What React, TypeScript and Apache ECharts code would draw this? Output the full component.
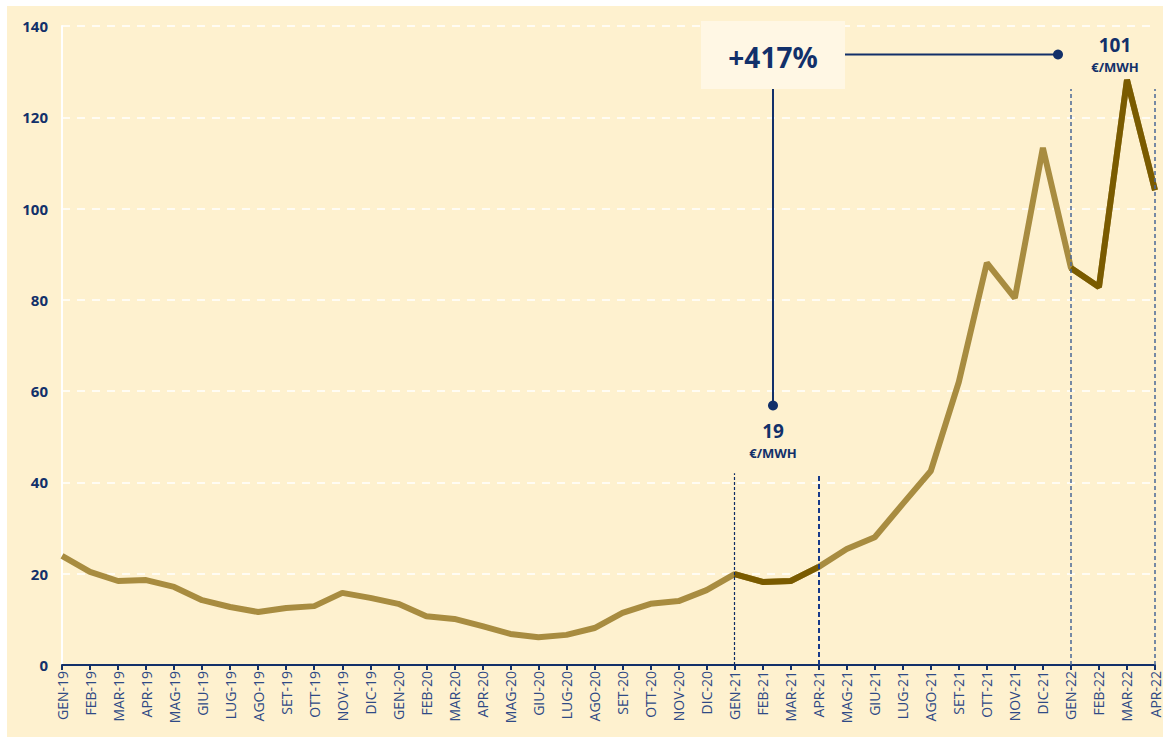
import React, { useEffect, useRef } from "react";
import * as echarts from "echarts";

const months: string[] = [
  "GEN-19", "FEB-19", "MAR-19", "APR-19", "MAG-19", "GIU-19", "LUG-19", "AGO-19", "SET-19", "OTT-19", "NOV-19", "DIC-19",
  "GEN-20", "FEB-20", "MAR-20", "APR-20", "MAG-20", "GIU-20", "LUG-20", "AGO-20", "SET-20", "OTT-20", "NOV-20", "DIC-20",
  "GEN-21", "FEB-21", "MAR-21", "APR-21", "MAG-21", "GIU-21", "LUG-21", "AGO-21", "SET-21", "OTT-21", "NOV-21", "DIC-21",
  "GEN-22", "FEB-22", "MAR-22", "APR-22",
];

const prices: number[] = [
  23.9, 20.4, 18.4, 18.6, 17.1, 14.2, 12.7, 11.6, 12.5, 12.9, 15.8, 14.7,
  13.4, 10.7, 10.1, 8.5, 6.8, 6.1, 6.6, 8.1, 11.4, 13.4, 14.0, 16.4,
  19.9, 18.2, 18.4, 21.5, 25.4, 28.0, 35.3, 42.5, 62.0, 88.1, 80.4, 113.3,
  87.0, 82.8, 128.2, 104.0,
];

// highlighted periods (category ranges)
const highlightRanges: [string, string][] = [
  ["GEN-21", "APR-21"],
  ["GEN-22", "APR-22"],
];

const yTicks: number[] = [0, 20, 40, 60, 80, 100, 120, 140];

const NAVY = "#12306a";
const LIGHT = "#a88c40";
const DARK = "#7a5b00";

export default function App() {
  const ref = useRef<HTMLDivElement>(null);

  useEffect(() => {
    if (!ref.current) return;
    const chart = echarts.init(ref.current, undefined, { renderer: "svg" });

    const idx = (m: string) => months.indexOf(m);
    const inHighlight = (i: number) =>
      highlightRanges.some(([a, b]) => i >= idx(a) && i <= idx(b));
    const darkData = prices.map((v, i) => (inHighlight(i) ? v : null));

    // offsets: chart div placed at (7,6) in page
    const ox = 7;
    const oy = 6;

    const option: any = {
      animation: false,
      backgroundColor: "#fef1cf",
      textStyle: { fontFamily: "Lato, 'DejaVu Sans', sans-serif" },
      grid: { left: 62 - ox, right: 8, top: 26 - oy, bottom: 72 },
      xAxis: {
        type: "category",
        data: months,
        boundaryGap: false,
        axisLine: { show: true, lineStyle: { color: NAVY, width: 2 } },
        axisTick: { show: true, alignWithLabel: true, length: 5, lineStyle: { color: NAVY, width: 2 } },
        axisLabel: {
          rotate: 90,
          interval: 0,
          color: "#2f4a85",
          fontSize: 14,
          margin: 6,
          fontFamily: "'Open Sans', sans-serif",
        },
        splitLine: { show: false },
      },
      yAxis: {
        type: "value",
        min: yTicks[0],
        max: yTicks[yTicks.length - 1],
        interval: 20,
        axisLine: { show: true, lineStyle: { color: "#ffffff", width: 2 } },
        axisTick: { show: false },
        axisLabel: { color: NAVY, fontWeight: "bold", fontSize: 15, margin: 14, fontFamily: "'Noto Sans', sans-serif" },
        splitLine: { show: true, lineStyle: { color: "#ffffff", type: [8, 7], width: 1.5 } },
      },
      series: [
        {
          type: "line",
          data: prices,
          symbol: "none",
          lineStyle: { color: LIGHT, width: 6 },
          z: 3,
          markLine: {
            silent: true,
            symbol: "none",
            label: { show: false },
            data: [
              [
                { coord: [idx("GEN-21"), 0], lineStyle: { color: "#0c2a66", type: [3, 2], width: 1.2 } },
                { coord: [idx("GEN-21"), 42] },
              ],
              [
                { coord: [idx("APR-21"), 0], lineStyle: { color: "#173a8a", type: [5, 3], width: 2 } },
                { coord: [idx("APR-21"), 42] },
              ],
              [
                { coord: [idx("GEN-22"), 0], lineStyle: { color: "#4a6796", type: [4, 3], width: 1.5 } },
                { coord: [idx("GEN-22"), 126.2] },
              ],
              [
                { coord: [idx("APR-22"), 0], lineStyle: { color: "#4a6796", type: [4, 3], width: 1.5 } },
                { coord: [idx("APR-22"), 126.2] },
              ],
            ],
          },
        },
        {
          type: "line",
          data: darkData,
          symbol: "none",
          connectNulls: false,
          lineStyle: { color: DARK, width: 6 },
          z: 4,
        },
      ],
      graphic: [
        {
          type: "rect",
          shape: { x: 701 - ox, y: 21 - oy, width: 144, height: 68 },
          style: { fill: "#fff7e4" },
          z: 10,
        },
        {
          type: "text",
          x: 773 - ox,
          y: 57 - oy,
          style: {
            text: "+417%",
            fill: NAVY,
            font: "bold 28px 'Noto Sans', sans-serif",
            align: "center",
            verticalAlign: "middle",
          },
          z: 11,
        },
        {
          type: "line",
          shape: { x1: 845 - ox, y1: 54.5 - oy, x2: 1058 - ox, y2: 54.5 - oy },
          style: { stroke: NAVY, lineWidth: 2 },
          z: 10,
        },
        {
          type: "circle",
          shape: { cx: 1058 - ox, cy: 54.5 - oy, r: 5 },
          style: { fill: NAVY },
          z: 10,
        },
        {
          type: "line",
          shape: { x1: 773 - ox, y1: 89 - oy, x2: 773 - ox, y2: 405 - oy },
          style: { stroke: NAVY, lineWidth: 2 },
          z: 10,
        },
        {
          type: "circle",
          shape: { cx: 773 - ox, cy: 405.5 - oy, r: 5 },
          style: { fill: NAVY },
          z: 10,
        },
        {
          type: "text",
          x: 773 - ox,
          y: 431 - oy,
          style: {
            text: "19",
            fill: NAVY,
            font: "bold 19px 'Noto Sans', sans-serif",
            align: "center",
            verticalAlign: "middle",
          },
          z: 11,
        },
        {
          type: "text",
          x: 773 - ox,
          y: 453 - oy,
          style: {
            text: "€/MWH",
            fill: NAVY,
            font: "bold 13px 'Noto Sans', sans-serif",
            align: "center",
            verticalAlign: "middle",
          },
          z: 11,
        },
        {
          type: "text",
          x: 1115 - ox,
          y: 45 - oy,
          style: {
            text: "101",
            fill: NAVY,
            font: "bold 19px 'Noto Sans', sans-serif",
            align: "center",
            verticalAlign: "middle",
          },
          z: 11,
        },
        {
          type: "text",
          x: 1115 - ox,
          y: 67 - oy,
          style: {
            text: "€/MWH",
            fill: NAVY,
            font: "bold 13px 'Noto Sans', sans-serif",
            align: "center",
            verticalAlign: "middle",
          },
          z: 11,
        },
      ],
    };

    chart.setOption(option);
    return () => chart.dispose();
  }, []);

  return (
    <div style={{ position: "fixed", left: 0, top: 0, width: 1163, height: 741, background: "#ffffff" }}>
      <div ref={ref} style={{ position: "absolute", left: 7, top: 6, width: 1156, height: 731 }} />
    </div>
  );
}
